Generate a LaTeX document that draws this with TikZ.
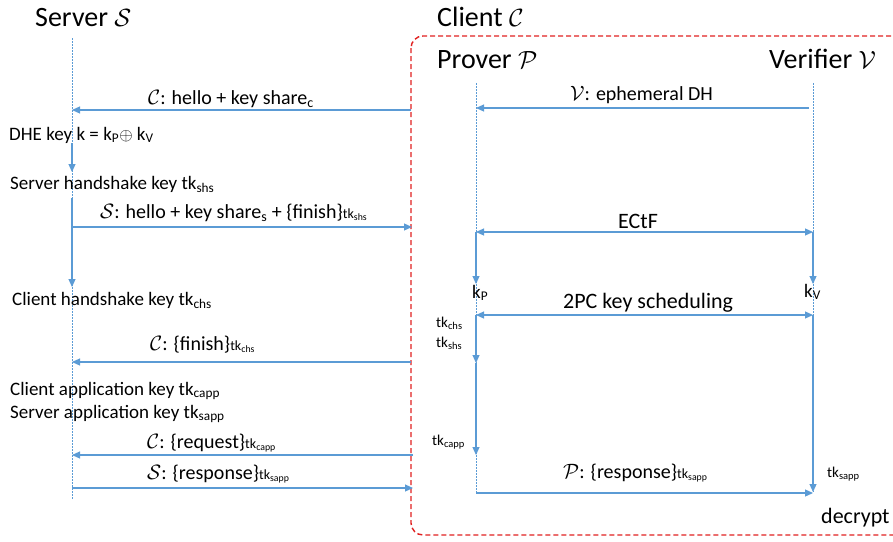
\documentclass[tikz,border=0pt]{standalone}
\usepackage{fontspec}
\setmainfont{Carlito}
\usetikzlibrary{arrows.meta}
\definecolor{lblue}{RGB}{91,155,213}
\definecolor{boxred}{RGB}{224,32,32}
\newcommand{\tsub}[1]{\textsubscript{#1}}
\newcommand{\smtk}[1]{{\fontsize{14}{14}\selectfont tk\textsubscript{#1}}}
\tikzset{
  msg/.style={draw=lblue, line width=1.1pt, -{Triangle[length=8pt,width=7pt]}},
  twoway/.style={draw=lblue, line width=1.1pt, {Triangle[length=8pt,width=7pt]}-{Triangle[length=8pt,width=7pt]}},
  life/.style={draw=lblue, line width=0.9pt, dash pattern=on 1.5pt off 1.5pt},
  txt/.style={inner sep=0pt, anchor=base west, font=\fontsize{19}{21}\selectfont},
  lab/.style={inner sep=0pt, anchor=base west, font=\fontsize{20}{22}\selectfont},
  big/.style={inner sep=0pt, anchor=base west, font=\fontsize{22}{24}\selectfont},
  ttl/.style={inner sep=0pt, anchor=base west, font=\fontsize{28}{30}\selectfont},
  sm/.style={inner sep=0pt, anchor=base west, font=\fontsize{15}{17}\selectfont},
  clbox/.style={draw=boxred, line width=1.4pt, dash pattern=on 5pt off 3pt, rounded corners=12pt}
}
\begin{document}
\begin{tikzpicture}[x=1pt,y=-1pt]
\useasboundingbox (0,0) rectangle (893,541);
\clip (0,0) rectangle (893,541);
% client box
\draw[clbox] (411,36) rectangle (910,535);
% titles
\node[ttl] (tS) at (35,26) {Server $\mathcal{S}$};
\node[ttl] (tC) at (437,26) {Client $\mathcal{C}$};
\node[ttl] (tP) at (437,68) {Prover $\mathcal{P}$};
\node[ttl] (tV) at (769,68) {Verifier $\mathcal{V}$};
% coordinates: server
\coordinate (s0) at (72,38);
\coordinate (sEnd) at (72,500);
\coordinate (s1) at (72,110);
\coordinate (s2a) at (72,143);
\coordinate (s2b) at (72,172);
\coordinate (s3a) at (72,198);
\coordinate (s3b) at (72,287);
\coordinate (s4) at (72,227);
\coordinate (s5) at (72,362);
\coordinate (s6) at (72,455);
\coordinate (s7) at (72,488);
% box edge points
\coordinate (b1) at (411,110);
\coordinate (b4) at (412,227);
\coordinate (b5) at (411,362);
\coordinate (b6) at (413,455);
\coordinate (b7) at (413,488);
% prover / verifier
\coordinate (p0) at (476,83);
\coordinate (pEnd) at (476,493);
\coordinate (v0) at (813,83);
\coordinate (vEnd) at (813,492);
\coordinate (p1) at (476,108);
\coordinate (v1) at (809,108);
\coordinate (p2) at (476,232);
\coordinate (v2) at (813,232);
\coordinate (p3) at (476,284);
\coordinate (v3) at (813,284);
\coordinate (p4) at (476,315);
\coordinate (v4) at (813,315);
\coordinate (p5) at (476,363);
\coordinate (p6) at (476,455);
\coordinate (v6) at (813,493);
% lifelines
\draw[life] (s0) -- (sEnd);
\draw[life] (p0) -- (pEnd);
\draw[life] (v0) -- (vEnd);
% server side texts
\node[lab] (m1) at (148,104) {$\mathcal{C}$: hello + key share\tsub{c}};
\node[txt] (k1) at (9,140) {DHE key k = k\tsub{P}$\oplus$ k\tsub{V}};
\node[txt] (k2) at (10,189) {Server handshake key tk\tsub{shs}};
\node[lab] (m2) at (100,218) {$\mathcal{S}$: hello + key share\tsub{s} + \{finish\}\smtk{shs}};
\node[txt] (k3) at (12,305) {Client handshake key tk\tsub{chs}};
\node[lab] (m3) at (150,350) {$\mathcal{C}$: \{finish\}\smtk{chs}};
\node[txt] (k4) at (10,395) {Client application key tk\tsub{capp}};
\node[txt] (k5) at (10,418) {Server application key tk\tsub{sapp}};
\node[lab] (m4) at (147,448) {$\mathcal{C}$: \{request\}\smtk{capp}};
\node[lab] (m5) at (147,479) {$\mathcal{S}$: \{response\}\smtk{sapp}};
% server side arrows
\draw[msg] (b1) -- (s1);
\draw[msg] (s2a) -- (s2b);
\draw[msg] (s3a) -- (s3b);
\draw[msg] (s4) -- (b4);
\draw[msg] (b5) -- (s5);
\draw[msg] (b6) -- (s6);
\draw[msg] (s7) -- (b7);
% client side texts
\node[lab] (m6) at (570,100) {$\mathcal{V}$: ephemeral DH};
\node[big, anchor=base] (m7) at (638,228) {ECtF};
\node[txt] (kp) at (472,298) {k\tsub{P}};
\node[txt] (kv) at (804,297) {k\tsub{V}};
\node[big] (m8) at (563,308) {2PC key scheduling};
\node[sm] (t1) at (436,327) {tk\tsub{chs}};
\node[sm] (t2) at (436,347) {tk\tsub{shs}};
\node[sm] (t3) at (432,445) {tk\tsub{capp}};
\node[lab] (m9) at (563,478) {$\mathcal{P}$: \{response\}\smtk{sapp}};
\node[sm] (t4) at (827,477) {tk\tsub{sapp}};
\node[big] (dec) at (821,523) {decrypt};
% client side arrows
\draw[msg] (v1) -- (p1);
\draw[twoway] (p2) -- (v2);
\draw[msg] (p2) -- (p3);
\draw[msg] (v2) -- (v3);
\draw[twoway] (p4) -- (v4);
\draw[msg] (p4) -- (p5);
\draw[msg] (p5) -- (p6);
\draw[msg] (v4) -- (vEnd);
\draw[msg] (pEnd) -- (v6);
\end{tikzpicture}
\end{document}
